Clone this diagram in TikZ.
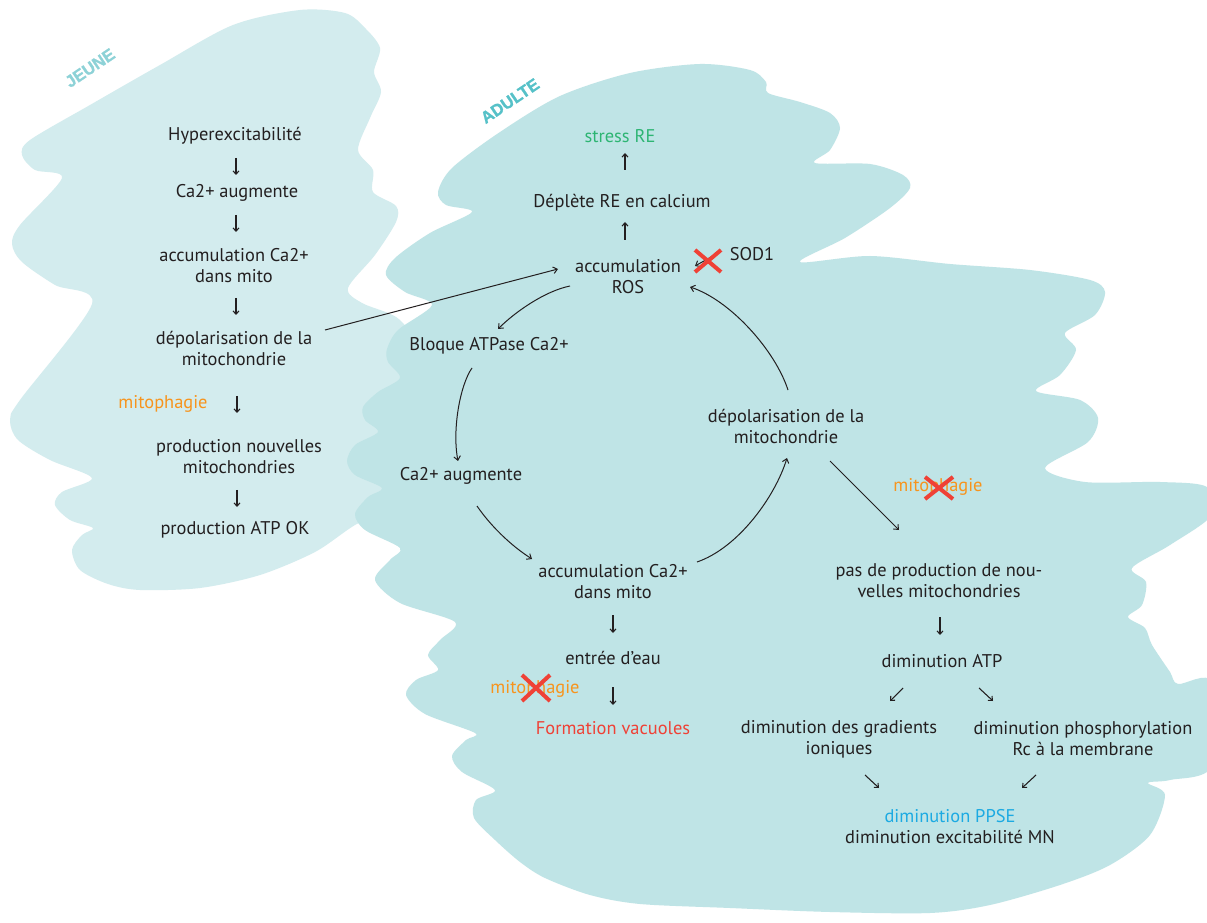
\documentclass[tikz,border=0pt]{standalone}
\usepackage{fontspec}
\setmainfont{PT Sans}
\newfontfamily\tagfont{Liberation Sans}[FakeBold=1.2]
\usetikzlibrary{arrows.meta,calc}
\definecolor{jeune}{HTML}{D3ECEE}
\definecolor{adulte}{HTML}{BFE4E6}
\definecolor{txt}{HTML}{231F20}
\definecolor{orng}{HTML}{F7941D}
\definecolor{grn}{HTML}{2DB573}
\definecolor{rd}{HTML}{EF4136}
\definecolor{blu}{HTML}{1CAAE2}
\definecolor{lblj}{HTML}{8DD2D7}
\definecolor{lbla}{HTML}{56C1C8}
\begin{document}
\begin{tikzpicture}[x=0.75pt,y=-0.75pt,
  lab/.style={font=\fontsize{13.8}{15.75}\selectfont, text=txt, align=center, inner sep=0pt},
  orlab/.style={lab, text=orng},
  arr/.style={draw=txt, line width=0.75pt, -{Straight Barb[length=3pt,width=5pt]}},
  sarr/.style={draw=txt, line width=0.8pt, -{Straight Barb[length=2.5pt,width=4.5pt]}},
  redx/.style={draw=rd, line width=3pt},
  tag/.style={font=\tagfont\bfseries\fontsize{12.5}{12.5}\selectfont, rotate=34, inner sep=0pt}]
\useasboundingbox (0,0) rectangle (1207,923);
\fill[white] (0,0) rectangle (1207,923);
% JEUNE blob
\fill[jeune] plot[smooth cycle, tension=0.5] coordinates {
(30,140) (90,105) (160,65) (233,25) (300,10) (345,13) (365,28) (380,48) (374,72) (381,92)
(370,118) (358,150) (373,170) (373,192) (396,206) (396,222) (375,255) (348,288) (362,303)
(400,320) (420,360) (420,470) (395,505) (355,525) (315,552) (260,575) (200,588) (140,590)
(108,584) (80,570) (72,550) (82,535) (93,528) (70,520) (55,505) (62,492) (92,478) (50,460)
(18,440) (10,420) (20,400) (92,304) (55,285) (22,262) (12,244) (20,225) (62,178) (35,170) (22,155)};
% ADULTE blob
\fill[adulte] plot[smooth cycle, tension=0.5] coordinates {
(438,192) (452,168) (500,132) (560,96) (630,73) (700,64) (750,70) (766,82) (768,93) (800,102)
(830,113) (840,128) (830,150) (815,163) (870,164) (903,175) (910,188) (890,208) (845,238) (800,262)
(870,256) (950,264) (1030,270) (1090,280) (1105,292) (1095,315) (1065,333) (1076,350) (1060,375)
(1036,391) (1080,400) (1098,418) (1088,442) (1045,468) (1085,482) (1160,482) (1207,487) (1212,515)
(1170,545) (1132,568) (1146,582) (1142,605) (1128,617) (1145,628) (1152,645) (1170,672) (1178,684)
(1212,682) (1212,766) (1170,780) (1148,783) (1165,795) (1150,835) (1110,865) (1060,885) (990,905)
(930,913) (830,912) (730,908) (640,904) (590,895) (545,878) (520,862) (495,840) (474,818) (476,800)
(495,790) (462,772) (452,756) (466,740) (475,733) (425,714) (406,695) (416,680) (438,670) (428,655)
(440,640) (455,622) (400,603) (375,580) (390,560) (400,548) (365,530) (355,514) (368,497) (382,488)
(355,475) (347,461) (355,445) (378,432) (365,420) (363,407) (378,392) (400,378) (388,362) (387,349)
(398,330) (432,305) (405,292) (386,275) (395,258) (430,233) (472,212) (446,205)};
% labels
\node[tag, text=lblj] (tj) at (90,68) {JEUNE};
\node[tag, text=lbla] (ta) at (510,101) {ADULTE};
% JEUNE column
\node[lab] (j1) at (235,136) {Hyperexcitabilité};
\node[lab] (j2) at (237,193) {Ca2+ augmente};
\node[lab] (j3) at (234,266) {accumulation Ca2+\\dans mito};
\node[lab] (j4) at (234,348) {dépolarisation de la\\mitochondrie};
\node[orlab] (jm) at (163,404) {mitophagie};
\node[lab] (j5) at (239,457) {production nouvelles\\mitochondries};
\node[lab] (j6) at (235,530) {production ATP OK};
\draw[sarr] ($(j1)+(1,22)$) -- ($(j1)+(1,39)$);
\draw[sarr] ($(j2)+(-1,22)$) -- ($(j2)+(-1,39)$);
\draw[sarr] ($(j3)+(2,32)$) -- ($(j3)+(2,49)$);
\draw[sarr] ($(j4)+(3,48)$) -- ($(j4)+(3,65)$);
\draw[sarr] ($(j5)+(-2,33)$) -- ($(j5)+(-2,50)$);
% ADULTE cycle
\node[lab, text=grn] (a1) at (620,136) {stress RE};
\node[lab] (a2) at (622,203) {Déplète RE en calcium};
\node[lab] (a3) at (628,277) {accumulation\\ROS};
\node[lab] (sod) at (752,254) {SOD1};
\node[lab] (a4) at (489,346) {Bloque ATPase Ca2+};
\node[lab] (a5) at (461,476) {Ca2+ augmente};
\node[lab] (a6) at (613,582) {accumulation Ca2+\\dans mito};
\node[lab] (a7) at (613,658) {entrée d’eau};
\node[orlab] (am) at (535,689) {mitophagie};
\node[lab, text=rd] (a8) at (613,728) {Formation vacuoles};
\node[lab] (a9) at (786,426) {dépolarisation de la\\mitochondrie};
\node[orlab] (bm) at (938,487) {mitophagie};
\node[lab] (b1) at (939,581) {pas de production de nou-\\velles mitochondries};
\node[lab] (b2) at (942,661) {diminution ATP};
\node[lab] (b3) at (839,739) {diminution des gradients\\ioniques};
\node[lab] (b4) at (1083,739) {diminution phosphorylation\\Rc à la membrane};
\node[lab] (b5) at (950,827) {\textcolor{blu}{diminution PPSE}\\diminution excitabilité MN};
% short arrows
\draw[sarr] ($(a2)+(3,-33)$) -- ($(a2)+(3,-50)$);
\draw[sarr] ($(a3)+(-3,-37)$) -- ($(a3)+(-3,-55)$);
\draw[sarr] ($(a6)+(0,33)$) -- ($(a6)+(0,51)$);
\draw[sarr] ($(a7)+(0,29)$) -- ($(a7)+(0,47)$);
\draw[sarr] ($(b1)+(1,36)$) -- ($(b1)+(1,54)$);
\draw[sarr] ($(b2)+(-39,27)$) -- ($(b2)+(-52,40)$);
\draw[sarr] ($(b2)+(37,27)$) -- ($(b2)+(51,40)$);
\draw[sarr] ($(b3)+(26,36)$) -- ($(b3)+(40,49)$);
\draw[sarr] ($(b4)+(-47,36)$) -- ($(b4)+(-61,49)$);
% SOD1 arrow
\draw[arr] ($(sod)+(-32,-2)$) -- ($(a3)+(67,-11)$);
% long line from jeune
\draw[arr] ($(j4)+(91,-18)$) -- ($(a3)+(-70,-8)$);
% cycle curves
\draw[arr] ($(a3)+(-58,9)$) .. controls (545,291) and (515,312) .. ($(a4)+(9,-17)$);
\draw[arr] ($(a4)+(-17,22)$) .. controls (460,385) and (452,430) .. ($(a5)+(-3,-15)$);
\draw[arr] ($(a5)+(16,30)$) .. controls (490,525) and (510,545) .. ($(a6)+(-81,-23)$);
\draw[arr] ($(a6)+(84,-20)$) .. controls (738,548) and (775,497) .. ($(a9)+(1,32)$);
\draw[arr] ($(a9)+(2,-36)$) .. controls (775,350) and (730,300) .. ($(a3)+(62,10)$);
\draw[arr] ($(a9)+(44,35)$) -- ($(b1)+(-40,-51)$);
% red crosses
\coordinate (x1) at (708,261);
\coordinate (x2) at (939,488);
\coordinate (x3) at (536,688);
\draw[redx] ($(x1)+(-13,-11)$) -- ($(x1)+(13,11)$) ($(x1)+(-13,11)$) -- ($(x1)+(13,-11)$);
\draw[redx] ($(x2)+(-14,-11)$) -- ($(x2)+(14,11)$) ($(x2)+(-14,11)$) -- ($(x2)+(14,-11)$);
\draw[redx] ($(x3)+(-14,-13)$) -- ($(x3)+(14,13)$) ($(x3)+(-14,13)$) -- ($(x3)+(14,-13)$);
\end{tikzpicture}
\end{document}
